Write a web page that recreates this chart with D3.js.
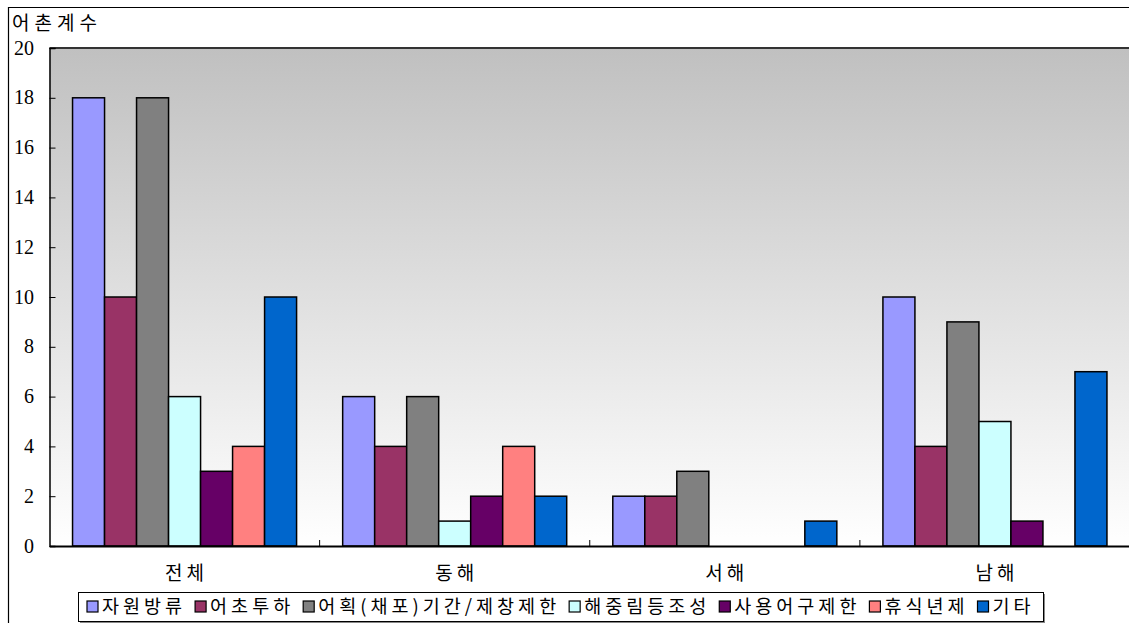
<!DOCTYPE html>
<html>
<head>
<meta charset="utf-8">
<script src="https://cdn.jsdelivr.net/npm/d3@7"></script>
<style>
  html, body { margin: 0; padding: 0; background: #fff; }
  svg { display: block; }
  .kr { font-family: "Noto Sans CJK KR", "Noto Sans", sans-serif; }
  .num { font-family: "Liberation Serif", "Times New Roman", serif; }
</style>
</head>
<body>
<svg id="chart" width="1129" height="623"></svg>
<script>
// Regions and measures
const regions = ["전체", "동해", "서해", "남해"];
const measures = ["자원방류", "어초투하", "어획(채포)기간/제창제한", "해중림등조성", "사용어구제한", "휴식년제", "기타"];
const colors = ["#9999FF", "#993366", "#808080", "#CCFFFF", "#660066", "#FF8080", "#0066CC"];

// Number of fishing village associations per measure, by region
const valJeonche = [18, 10, 18, 6, 3, 4, 10];
const valDonghae = [6, 4, 6, 1, 2, 4, 2];
const valSeohae  = [2, 2, 3, 0, 0, 0, 1];
const valNamhae  = [10, 4, 9, 5, 1, 0, 7];
const values = [valJeonche, valDonghae, valSeohae, valNamhae];

const yTicks = [0, 2, 4, 6, 8, 10, 12, 14, 16, 18, 20];
const yTitle = "어촌계수";

const W = 1129, H = 623;
const plot = { left: 49.5, right: 1130, top: 48, bottom: 546 };

const svg = d3.select("#chart");

// Outer frame (left and top edges)
svg.append("path")
  .attr("d", `M8.5,${H} V7.5 H${W}`)
  .attr("fill", "none").attr("stroke", "#000").attr("stroke-width", 1.2);

// Plot background gradient
const defs = svg.append("defs");
const grad = defs.append("linearGradient").attr("id", "bg")
  .attr("x1", 0).attr("y1", 0).attr("x2", 0).attr("y2", 1);
grad.append("stop").attr("offset", "0%").attr("stop-color", "#c0c0c0");
grad.append("stop").attr("offset", "100%").attr("stop-color", "#ffffff");

svg.append("rect")
  .attr("x", plot.left).attr("y", plot.top)
  .attr("width", plot.right - plot.left).attr("height", plot.bottom - plot.top)
  .attr("fill", "url(#bg)");

// top border of plot area
svg.append("line")
  .attr("x1", plot.left).attr("x2", plot.right)
  .attr("y1", plot.top).attr("y2", plot.top)
  .attr("stroke", "#333").attr("stroke-width", 2);

// Scales
const x0 = d3.scaleBand().domain(regions).range([plot.left, plot.right]).padding(0);
const x1 = d3.scaleBand().domain(measures).range([0, x0.bandwidth()])
  .paddingInner(0).paddingOuter(0.72);
const y = d3.scaleLinear().domain([0, 20]).range([plot.bottom, plot.top]);

// Bars
const groups = svg.append("g").selectAll("g")
  .data(regions).join("g")
  .attr("transform", d => `translate(${x0(d)},0)`);

groups.selectAll("rect")
  .data((r, i) => measures.map((m, j) => ({ m, v: values[i][j], c: colors[j] })).filter(d => d.v > 0))
  .join("rect")
  .attr("x", d => x1(d.m))
  .attr("y", d => y(d.v))
  .attr("width", x1.bandwidth())
  .attr("height", d => y(0) - y(d.v))
  .attr("fill", d => d.c)
  .attr("stroke", "#000")
  .attr("stroke-width", 1.5);

// Y axis
const yAxis = svg.append("g")
  .attr("transform", `translate(${plot.left},0)`)
  .call(d3.axisRight(y).tickValues(yTicks).tickSize(6).tickFormat(""));
yAxis.select(".domain").attr("stroke", "#000").attr("stroke-width", 1.5);
yAxis.selectAll(".tick line").attr("stroke", "#000").attr("stroke-width", 1);

svg.append("g").selectAll("text")
  .data(yTicks).join("text")
  .attr("class", "num")
  .attr("x", 34)
  .attr("y", d => y(d) + 2)
  .attr("text-anchor", "end")
  .attr("dominant-baseline", "middle")
  .attr("font-size", 20)
  .text(d => d);

// X axis
const xAxis = svg.append("g")
  .attr("transform", `translate(0,${plot.bottom})`)
  .call(d3.axisTop(x0).tickSize(0).tickFormat(""));
xAxis.select(".domain").attr("stroke", "#000").attr("stroke-width", 1.8);
xAxis.selectAll(".tick").remove();

// tick marks between region groups
svg.append("g").selectAll("line")
  .data(regions.slice(1)).join("line")
  .attr("x1", d => x0(d)).attr("x2", d => x0(d))
  .attr("y1", plot.bottom - 6).attr("y2", plot.bottom)
  .attr("stroke", "#000").attr("stroke-width", 1);

// Region labels
svg.append("g").selectAll("text")
  .data(regions).join("text")
  .attr("class", "kr")
  .attr("x", d => x0(d) + x0.bandwidth() / 2 + 2)
  .attr("y", 580)
  .attr("text-anchor", "middle")
  .attr("font-size", 19)
  .attr("letter-spacing", 4)
  .text(d => d);

// Y axis title
svg.append("text")
  .attr("class", "kr")
  .attr("x", 12).attr("y", 30)
  .attr("font-size", 19)
  .attr("letter-spacing", 5)
  .text(yTitle);

// Legend
const legend = { left: 78, top: 592, right: 1043, bottom: 621 };
svg.append("rect")
  .attr("x", legend.left + 2).attr("y", legend.top + 2)
  .attr("width", legend.right - legend.left).attr("height", legend.bottom - legend.top)
  .attr("fill", "#888");
svg.append("rect")
  .attr("x", legend.left + 0.5).attr("y", legend.top + 0.5)
  .attr("width", legend.right - legend.left).attr("height", legend.bottom - legend.top)
  .attr("fill", "#fff").attr("stroke", "#000").attr("stroke-width", 1);

const lg = svg.append("g");
let cx = legend.left + 9;
const ly = (legend.top + legend.bottom) / 2 + 1;
measures.forEach((m, i) => {
  lg.append("rect")
    .attr("x", cx).attr("y", ly - 6.5)
    .attr("width", 11).attr("height", 11)
    .attr("fill", colors[i]).attr("stroke", "#000").attr("stroke-width", 1.2);
  const t = lg.append("text")
    .attr("class", "kr")
    .attr("x", cx + 15).attr("y", ly)
    .attr("dominant-baseline", "middle")
    .attr("font-size", 18.5)
    .attr("letter-spacing", 4)
    .text(m);
  cx += 15 + t.node().getComputedTextLength() + 9;
});
</script>
</body>
</html>
